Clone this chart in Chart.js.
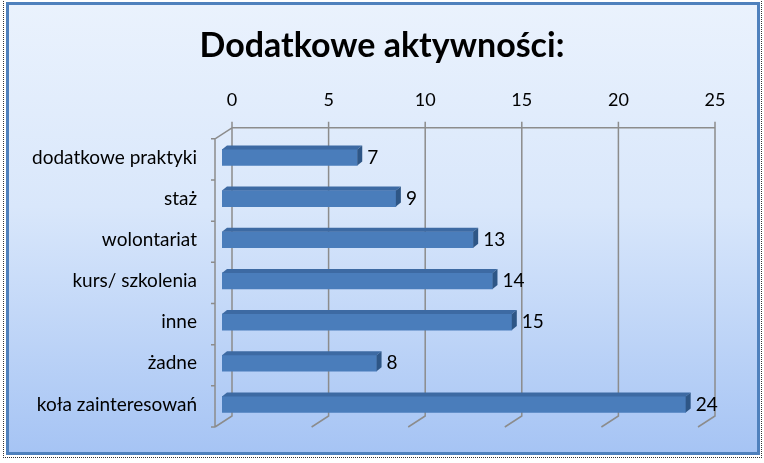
<!DOCTYPE html>
<html>
<head>
<meta charset="utf-8">
<script src="https://cdn.jsdelivr.net/npm/chart.js@4"></script>
<style>
  body { margin: 0; background: #fff; }
  #wrap { position: relative; width: 764px; height: 463px; overflow: hidden; }
  #dots { position: absolute; left: 3px; top: -1px; width: 757px; height: 457px; border: 1px dotted #333; }
  #frame { position: absolute; left: 6px; top: 2px; width: 748px; height: 447px;
    border: 3px solid #4f81bd; background: linear-gradient(to bottom, #eaf2fd, #d9e7fb 45%, #a6c4f4); }
  #c { position: absolute; left: 0; top: 0; }
</style>
</head>
<body>
<div id="wrap">
  <div id="dots"></div>
  <div id="frame"></div>
  <canvas id="c" width="764" height="463"></canvas>
</div>
<script>
const categories = [
  "dodatkowe praktyki",
  "staż",
  "wolontariat",
  "kurs/ szkolenia",
  "inne",
  "żadne",
  "koła zainteresowań",
]
const values = [7, 9, 13, 14, 15, 8, 24]
const tickValues = [0, 5, 10, 15, 20, 25]

const FONT = "Lato, 'Open Sans', sans-serif"
const back = { dx: 10, dy: -9 }   // back wall offset from bar plane
const front = { dx: -7, dy: 2 }   // front/axis offset

// center the title over the whole canvas, not just the padded box
const centerTitle = {
  id: "centerTitle",
  afterLayout(chart) {
    const t = chart.titleBlock
    if (t) {
      t.left = 0
      t.right = chart.width
    }
  },
}

// grey 3D walls: back grid lines, floor diagonals, left axis
const walls = {
  id: "walls",
  beforeDatasetsDraw(chart) {
    const { ctx, chartArea: a, scales } = chart
    const x = scales.x
    ctx.save()
    ctx.strokeStyle = "#8c8c8c"
    ctx.lineWidth = 1.5
    ctx.beginPath()
    tickValues.forEach((v) => {
      const px = x.getPixelForValue(v)
      ctx.moveTo(px + back.dx, a.top + back.dy - 6)
      ctx.lineTo(px + back.dx, a.bottom + back.dy)
      ctx.lineTo(px + front.dx, a.bottom + front.dy)
    })
    const x0 = x.getPixelForValue(0)
    const x1 = x.getPixelForValue(25)
    ctx.moveTo(x0 + back.dx, a.top + back.dy)
    ctx.lineTo(x1 + back.dx, a.top + back.dy)
    ctx.moveTo(x0 + back.dx, a.top + back.dy)
    ctx.lineTo(x0 + front.dx, a.top + front.dy)
    ctx.lineTo(x0 + front.dx, a.bottom + front.dy)
    const n = categories.length
    for (let i = 0; i <= n; i++) {
      const yy = a.top + front.dy + ((a.bottom - a.top) * i) / n
      ctx.moveTo(x0 + front.dx - 4, yy)
      ctx.lineTo(x0 + front.dx, yy)
    }
    ctx.stroke()
    ctx.restore()
  },
}

// top and end faces of the bars + value labels
const bars3d = {
  id: "bars3d",
  afterDatasetsDraw(chart) {
    const { ctx } = chart
    const meta = chart.getDatasetMeta(0)
    const d = 5
    ctx.save()
    meta.data.forEach((bar, i) => {
      const top = bar.y - bar.height / 2
      const bot = bar.y + bar.height / 2
      ctx.fillStyle = "#3d6aa3"
      ctx.beginPath()
      ctx.moveTo(bar.base, top)
      ctx.lineTo(bar.x, top)
      ctx.lineTo(bar.x + d, top - d + 1)
      ctx.lineTo(bar.base + d, top - d + 1)
      ctx.closePath()
      ctx.fill()
      ctx.fillStyle = "#2e5686"
      ctx.beginPath()
      ctx.moveTo(bar.x, top)
      ctx.lineTo(bar.x + d, top - d + 1)
      ctx.lineTo(bar.x + d, bot - d + 1)
      ctx.lineTo(bar.x, bot)
      ctx.closePath()
      ctx.fill()
      ctx.fillStyle = "#000"
      ctx.font = "19px " + FONT
      ctx.textBaseline = "middle"
      ctx.textAlign = "left"
      ctx.fillText(String(values[i]), bar.x + 10, bar.y)
    })
    ctx.restore()
  },
}

new Chart(document.getElementById("c"), {
  type: "bar",
  data: {
    labels: categories,
    datasets: [
      {
        data: values,
        backgroundColor: "#4a7dbb",
        barThickness: 16,
      },
    ],
  },
  options: {
    indexAxis: "y",
    responsive: false,
    animation: false,
    devicePixelRatio: 1,
    layout: { padding: { left: 0, right: 59, top: 0, bottom: 38 } },
    plugins: {
      legend: { display: false },
      tooltip: { enabled: false },
      title: {
        display: true,
        text: "Dodatkowe aktywności:",
        color: "#000",
        font: { family: FONT, size: 34, weight: "bold" },
        padding: { top: 26, bottom: 0 },
      },
    },
    scales: {
      x: {
        position: "top",
        min: 0,
        max: 25,
        grid: { display: false, drawTicks: false },
        border: { display: false },
        ticks: {
          stepSize: 5,
          color: "#000",
          font: { family: FONT, size: 18 },
          padding: 26,
          labelOffset: 10,
        },
        afterFit(scale) {
          scale.height = 70
        },
      },
      y: {
        grid: { display: false, drawTicks: false },
        border: { display: false },
        ticks: {
          color: "#000",
          font: { family: FONT, size: 19 },
          padding: 25,
        },
        afterFit(scale) {
          scale.width = 222
        },
      },
    },
  },
  plugins: [centerTitle, walls, bars3d],
})
</script>
</body>
</html>
